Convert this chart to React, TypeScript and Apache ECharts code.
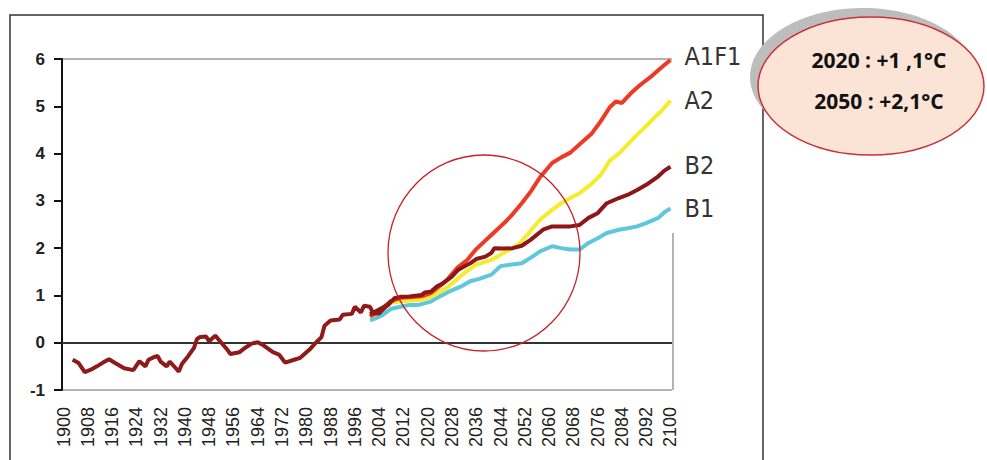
import React, { useEffect, useRef } from "react";
import * as echarts from "echarts";

const years: string[] = [];
for (let y = 1900; y <= 2100; y++) years.push(String(y));

const yTicks = [-1, 0, 1, 2, 3, 4, 5, 6];

const histYears = [1903, 1905, 1907, 1909, 1911, 1913, 1915, 1917, 1920, 1923, 1925, 1927, 1928, 1930, 1931, 1932, 1934, 1935, 1937, 1938, 1939, 1941, 1943, 1944, 1945, 1947, 1948, 1950, 1952, 1954, 1955, 1958, 1960, 1962, 1964, 1966, 1969, 1971, 1973, 1976, 1978, 1981, 1983, 1985, 1986, 1988, 1991, 1992, 1995, 1996, 1998, 1999, 2001, 2002, 2004, 2006, 2008];
const histTemp = [-0.36, -0.43, -0.62, -0.57, -0.5, -0.42, -0.35, -0.43, -0.54, -0.58, -0.39, -0.5, -0.36, -0.3, -0.28, -0.4, -0.5, -0.4, -0.54, -0.61, -0.45, -0.29, -0.11, 0.08, 0.12, 0.13, 0.03, 0.15, 0.0, -0.15, -0.24, -0.2, -0.1, -0.02, 0.01, -0.06, -0.2, -0.25, -0.42, -0.36, -0.32, -0.15, -0.01, 0.12, 0.36, 0.47, 0.49, 0.59, 0.61, 0.76, 0.64, 0.78, 0.76, 0.62, 0.62, 0.75, 0.89];

const b1Years = [2001, 2003, 2005, 2008, 2011, 2014, 2017, 2021, 2024, 2027, 2031, 2034, 2037, 2041, 2044, 2047, 2051, 2054, 2057, 2061, 2064, 2067, 2070, 2073, 2076, 2079, 2083, 2086, 2089, 2092, 2096, 2098, 2100];
const b1Temp = [0.47, 0.52, 0.58, 0.72, 0.76, 0.8, 0.8, 0.87, 0.98, 1.08, 1.19, 1.3, 1.35, 1.44, 1.62, 1.65, 1.68, 1.8, 1.93, 2.04, 2.0, 1.97, 1.97, 2.11, 2.21, 2.32, 2.39, 2.42, 2.46, 2.53, 2.64, 2.76, 2.84];

const a2Years = [2001, 2004, 2008, 2011, 2014, 2018, 2021, 2023, 2026, 2028, 2030, 2032, 2036, 2041, 2045, 2050, 2053, 2057, 2061, 2064, 2067, 2070, 2074, 2077, 2080, 2083, 2086, 2089, 2092, 2095, 2097, 2100];
const a2Temp = [0.55, 0.65, 0.85, 0.87, 0.89, 0.91, 0.97, 1.04, 1.15, 1.25, 1.36, 1.47, 1.65, 1.75, 1.9, 2.08, 2.3, 2.6, 2.81, 2.95, 3.06, 3.16, 3.36, 3.55, 3.85, 4.0, 4.2, 4.4, 4.58, 4.78, 4.9, 5.12];

const a1f1Years = [2001, 2004, 2008, 2011, 2014, 2018, 2021, 2023, 2026, 2028, 2030, 2033, 2036, 2040, 2043, 2046, 2048, 2051, 2054, 2057, 2061, 2064, 2067, 2071, 2074, 2077, 2080, 2082, 2084, 2087, 2090, 2094, 2097, 2100];
const a1f1Temp = [0.55, 0.68, 0.88, 0.95, 0.96, 0.98, 1.05, 1.15, 1.3, 1.45, 1.6, 1.75, 1.98, 2.22, 2.4, 2.58, 2.72, 2.95, 3.2, 3.5, 3.8, 3.92, 4.02, 4.25, 4.42, 4.68, 4.98, 5.1, 5.07, 5.28, 5.45, 5.65, 5.82, 5.98];

const b2Years = [2001, 2004, 2007, 2009, 2011, 2014, 2018, 2019, 2021, 2023, 2025, 2028, 2030, 2032, 2034, 2036, 2039, 2041, 2042, 2045, 2048, 2051, 2054, 2058, 2061, 2064, 2067, 2070, 2073, 2076, 2079, 2083, 2086, 2089, 2092, 2096, 2098, 2100];
const b2Temp = [0.6, 0.7, 0.8, 0.94, 0.97, 0.98, 1.01, 1.06, 1.08, 1.19, 1.26, 1.4, 1.54, 1.61, 1.68, 1.77, 1.82, 1.9, 2.0, 1.99, 2.0, 2.05, 2.18, 2.39, 2.46, 2.46, 2.46, 2.49, 2.64, 2.74, 2.95, 3.06, 3.13, 3.23, 3.34, 3.52, 3.64, 3.72];

const noteLines = ["2020 : +1 ,1°C", "2050 : +2,1°C"];

const pairs = (ys: number[], vs: number[]) => ys.map((y, i) => [String(y), vs[i]]);

const narrowFont = "Liberation Sans Narrow, DejaVu Sans Condensed, Liberation Sans, sans-serif";
const sansFont = "Liberation Sans";

export default function App() {
  const ref = useRef<HTMLDivElement>(null);
  useEffect(() => {
    if (!ref.current) return;
    const chart = echarts.init(ref.current, null, { renderer: "svg" });
    const endLabel = (dy: number) => ({
      show: true,
      formatter: "{a}",
      fontSize: 25,
      fontFamily: narrowFont,
      color: "#333",
      distance: 14,
      offset: [0, dy],
    });
    const lineSeries = (name: string, ys: number[], vs: number[], color: string, z: number, dy: number) => ({
      type: "line",
      name,
      data: pairs(ys, vs),
      showSymbol: false,
      symbol: "none",
      lineStyle: { color, width: 4 },
      itemStyle: { color },
      z,
      endLabel: endLabel(dy),
      silent: true,
    });
    const splitColors = yTicks.map((t, i) => (i === 0 || i === yTicks.length - 1 ? "#9a9a9a" : "rgba(0,0,0,0)"));
    chart.setOption({
      animation: false,
      backgroundColor: "#ffffff",
      textStyle: { fontFamily: sansFont },
      grid: { left: 62, top: 59, right: 315, bottom: 70, containLabel: false, outerBoundsMode: "none" },
      xAxis: {
        type: "category",
        data: years,
        boundaryGap: true,
        axisLine: { show: false },
        axisTick: { show: false },
        splitLine: { show: false },
        axisLabel: {
          show: true,
          interval: 7,
          rotate: 90,
          hideOverlap: false,
          fontSize: 18,
          fontFamily: sansFont,
          color: "#222",
          margin: 17,
        },
      },
      yAxis: {
        type: "value",
        min: -1,
        max: 6,
        interval: 1,
        axisLine: { show: true, lineStyle: { color: "#111", width: 2 } },
        axisTick: { show: true, length: 8, lineStyle: { color: "#111", width: 2 } },
        axisLabel: {
          show: true,
          fontSize: 17,
          fontWeight: "bold",
          fontFamily: sansFont,
          color: "#222",
          margin: 17,
        },
        splitLine: { show: true, lineStyle: { color: splitColors, width: 1.5 } },
      },
      series: [
        lineSeries("B1", b1Years, b1Temp, "#5EC7DB", 2, 0),
        lineSeries("A2", a2Years, a2Temp, "#F4EC2C", 3, 0),
        lineSeries("A1F1", a1f1Years, a1f1Temp, "#EE3A24", 4, -3),
        lineSeries("B2", b2Years, b2Temp, "#8E1518", 5, -1),
        {
          type: "line",
          name: "Observé",
          data: pairs(histYears, histTemp),
          showSymbol: false,
          symbol: "none",
          lineStyle: { color: "#8E1A1A", width: 4 },
          itemStyle: { color: "#8E1A1A" },
          z: 6,
          silent: true,
          markLine: {
            silent: true,
            symbol: "none",
            label: { show: false },
            lineStyle: { color: "#333", width: 2, type: "solid" },
            data: [{ yAxis: 0 }],
            z: 1,
          },
        },
      ],
      graphic: [
        {
          type: "rect",
          z: 0,
          shape: { x: 10, y: 15, width: 753, height: 520 },
          style: { fill: "none", stroke: "#333", lineWidth: 1.5 },
          silent: true,
        },
        {
          type: "line",
          z: 0,
          shape: { x1: 673, y1: 233, x2: 673, y2: 390 },
          style: { stroke: "#9a9a9a", lineWidth: 1.5 },
          silent: true,
        },
        {
          type: "ellipse",
          z: 20,
          shape: { cx: 484, cy: 253, rx: 96, ry: 98 },
          style: { fill: "none", stroke: "#C8202A", lineWidth: 1.3 },
          silent: true,
        },
        {
          type: "ellipse",
          z: 21,
          shape: { cx: 863, cy: 77, rx: 113, ry: 69 },
          style: { fill: "#BDBDBD" },
          silent: true,
        },
        {
          type: "ellipse",
          z: 22,
          shape: { cx: 871, cy: 86, rx: 113, ry: 69 },
          style: { fill: "#FBE4D6", stroke: "#C9303A", lineWidth: 1.5 },
          silent: true,
        },
        {
          type: "text",
          z: 23,
          x: 879,
          y: 60,
          style: {
            text: noteLines[0],
            fill: "#111",
            fontSize: 21,
            fontWeight: "bold",
            fontFamily: "Open Sans",
            align: "center",
            verticalAlign: "middle",
          },
          silent: true,
        },
        {
          type: "text",
          z: 23,
          x: 879,
          y: 101,
          style: {
            text: noteLines[1],
            fill: "#111",
            fontSize: 21,
            fontWeight: "bold",
            fontFamily: "Open Sans",
            align: "center",
            verticalAlign: "middle",
          },
          silent: true,
        },
      ],
    });
    return () => chart.dispose();
  }, []);
  return (
    <div
      ref={ref}
      style={{ position: "fixed", left: 0, top: 0, width: 987, height: 460, background: "#fff" }}
    />
  );
}
